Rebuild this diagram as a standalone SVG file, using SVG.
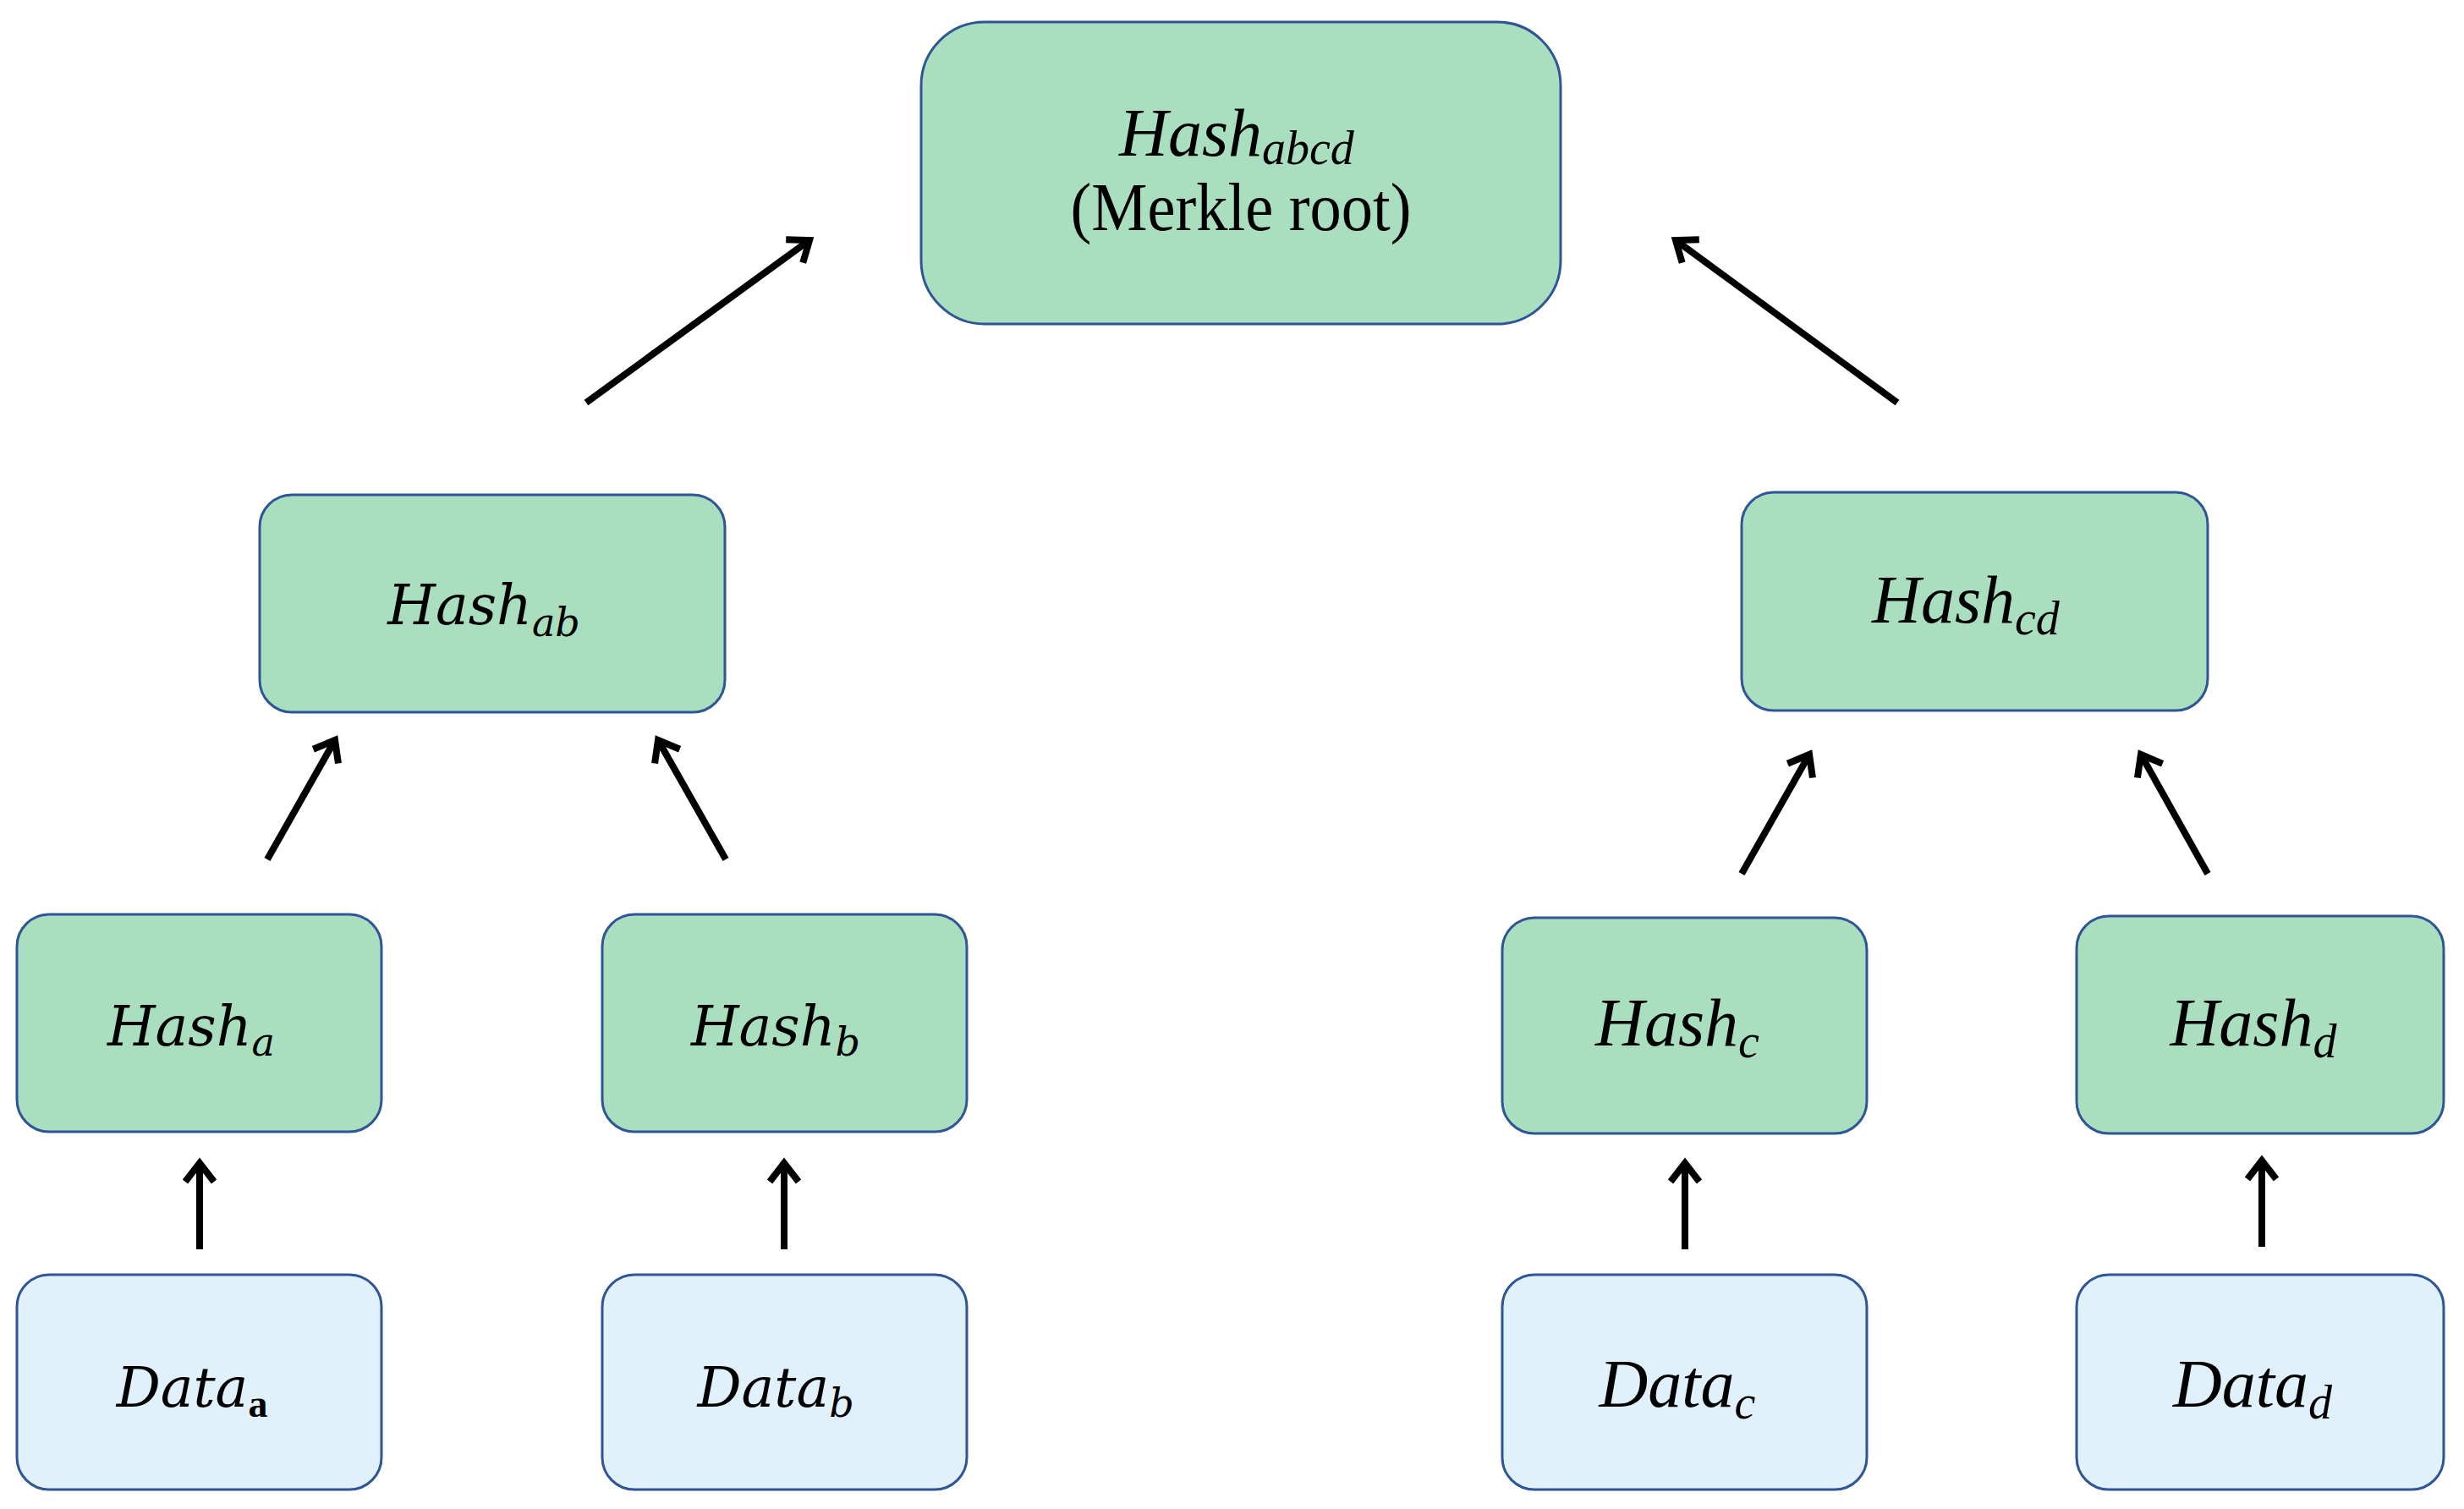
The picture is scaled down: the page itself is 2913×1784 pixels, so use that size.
<svg xmlns="http://www.w3.org/2000/svg" width="2913" height="1784" viewBox="0 0 2913 1784">
<style>
.g{fill:#a9dfbf;stroke:#2f5597;stroke-width:3}
.b{fill:#e0f1fc;stroke:#2f5597;stroke-width:3}
.t{font-family:"DejaVu Serif",serif;font-style:italic;font-size:65px;fill:#000;text-anchor:middle}
.tc{font-family:"Liberation Serif",serif;font-style:italic;font-size:80px;fill:#000;text-anchor:middle}
.r{font-family:"Liberation Serif",serif;font-size:80px;fill:#000;text-anchor:middle}
.s{font-size:46px}
.sc{font-size:56px}
.c line{stroke:#000;stroke-width:8;marker-end:url(#ah)}
</style>
<defs>
<marker id="ah" markerUnits="userSpaceOnUse" markerWidth="46" markerHeight="46" viewBox="0 0 46 46" refX="34" refY="23" orient="auto">
<path d="M12,6 L34,23 L12,40" fill="none" stroke="#000" stroke-width="8" stroke-linejoin="miter"/>
</marker>
</defs>
<rect width="2913" height="1784" fill="#fff"/>
<g id="root"><rect class="g" x="1089" y="26" width="756" height="357" rx="75"/>
<text class="tc" x="1462" y="184">Hash<tspan class="sc" dy="10">abcd</tspan></text>
<text class="r" x="1467" y="272" textLength="403" lengthAdjust="spacingAndGlyphs">(Merkle root)</text></g>
<g id="hash_ab"><rect class="g" x="307" y="585" width="550" height="257" rx="38"/>
<text class="t" x="572" y="738">Hash<tspan class="s" dy="14">ab</tspan></text></g>
<g id="hash_cd"><rect class="g" x="2059" y="582" width="551" height="258" rx="38"/>
<text class="tc" x="2324" y="736">Hash<tspan class="sc" dy="14">cd</tspan></text></g>
<g id="hash_a"><rect class="g" x="20" y="1081" width="431" height="257" rx="38"/>
<text class="t" x="226" y="1236">Hash<tspan class="s" dy="12">a</tspan></text></g>
<g id="hash_b"><rect class="g" x="712" y="1081" width="431" height="257" rx="38"/>
<text class="t" x="917" y="1236">Hash<tspan class="s" dy="12">b</tspan></text></g>
<g id="hash_c"><rect class="g" x="1776" y="1085" width="431" height="255" rx="38"/>
<text class="tc" x="1983" y="1236">Hash<tspan class="sc" dy="14">c</tspan></text></g>
<g id="hash_d"><rect class="g" x="2455" y="1083" width="434" height="257" rx="38"/>
<text class="tc" x="2664" y="1236">Hash<tspan class="sc" dy="14">d</tspan></text></g>
<g id="data_a"><rect class="b" x="20" y="1507" width="431" height="254" rx="38"/>
<text class="t" x="227" y="1663">Data<tspan class="s" dy="12" font-style="normal" font-weight="bold" font-family="Liberation Serif, serif" font-size="50">a</tspan></text></g>
<g id="data_b"><rect class="b" x="712" y="1507" width="431" height="254" rx="38"/>
<text class="t" x="917" y="1663">Data<tspan class="s" dy="12">b</tspan></text></g>
<g id="data_c"><rect class="b" x="1776" y="1507" width="431" height="254" rx="38"/>
<text class="tc" x="1983" y="1663">Data<tspan class="sc" dy="14">c</tspan></text></g>
<g id="data_d"><rect class="b" x="2455" y="1507" width="434" height="254" rx="38"/>
<text class="tc" x="2663" y="1663">Data<tspan class="sc" dy="14">d</tspan></text></g>
<g id="connectors" class="c">
<line x1="693" y1="476" x2="957" y2="284"/>
<line x1="2243" y1="476" x2="1981" y2="284"/>
<line x1="316" y1="1016" x2="396" y2="875"/>
<line x1="858" y1="1016" x2="778" y2="875"/>
<line x1="2059" y1="1033" x2="2139" y2="892"/>
<line x1="2610" y1="1033" x2="2531" y2="892"/>
<line x1="236" y1="1477" x2="236" y2="1375"/>
<line x1="927" y1="1477" x2="927" y2="1375"/>
<line x1="1992" y1="1477" x2="1992" y2="1375"/>
<line x1="2674" y1="1474" x2="2674" y2="1372"/>
</g>
</svg>
